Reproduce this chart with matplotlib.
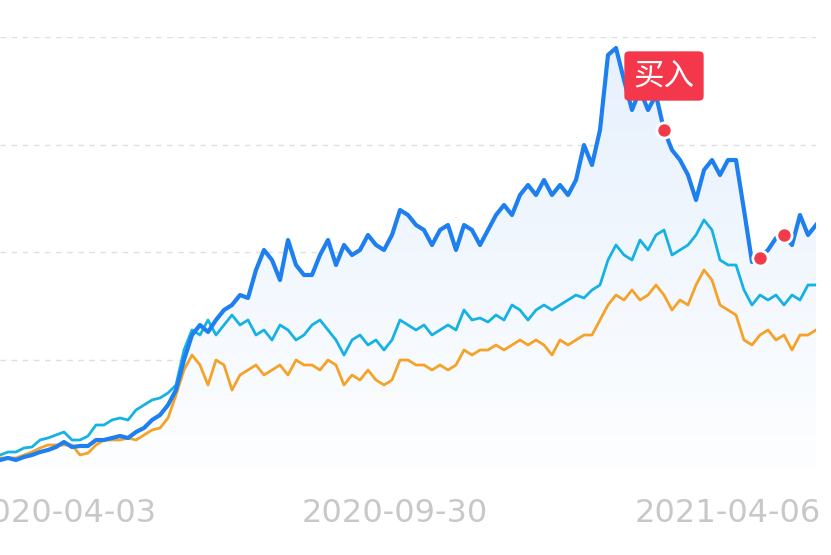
import matplotlib

matplotlib.use("Agg")
import matplotlib.pyplot as plt
import numpy as np
from matplotlib.patches import Polygon

plt.rcParams["font.family"] = ["Noto Sans CJK SC", "DejaVu Sans"]

# net value levels (arbitrary units), one sample per step
strategy = [7, 9, 7, 10, 12, 15, 17, 20, 25, 20, 21, 21, 27, 27, 29, 31, 29, 35, 39, 47, 52, 62, 77, 107, 132, 142,
            135, 147, 157, 162, 172, 169, 197, 217, 207, 187, 227, 202, 192, 192, 212, 227, 202, 222, 212, 217, 232,
            222, 217, 232, 257, 252, 242, 237, 222, 237, 242, 217, 242, 237, 222, 237, 252, 262, 252, 272, 282, 272,
            287, 272, 282, 272, 287, 322, 302, 337, 412, 419, 387, 357, 377, 357, 372, 337, 317, 307, 292, 267, 297,
            307, 292, 307, 307, 257, 205, 209, 217, 229, 232, 222, 252, 232, 242]
index_a = [12, 15, 15, 19, 20, 27, 29, 32, 35, 27, 27, 31, 42, 42, 47, 49, 47, 57, 62, 67, 69, 74, 82, 117, 137, 132,
           147, 132, 142, 152, 142, 147, 132, 137, 127, 142, 137, 127, 132, 142, 147, 137, 127, 112, 127, 132, 122,
           127, 117, 127, 147, 142, 137, 142, 132, 137, 142, 137, 157, 147, 149, 145, 152, 147, 162, 157, 147, 157,
           162, 157, 162, 167, 172, 169, 177, 182, 207, 222, 212, 207, 227, 217, 232, 237, 212, 217, 222, 232, 247,
           237, 207, 202, 202, 177, 162, 172, 167, 172, 162, 172, 167, 182, 182]
index_b = [9, 9, 9, 12, 15, 19, 22, 22, 22, 22, 12, 14, 22, 27, 27, 27, 29, 27, 32, 37, 39, 49, 72, 97, 112, 102, 82,
           107, 102, 77, 92, 97, 102, 92, 97, 102, 92, 107, 102, 102, 97, 107, 102, 82, 92, 87, 97, 87, 82, 87, 107,
           107, 102, 102, 97, 102, 97, 102, 117, 112, 117, 117, 122, 117, 122, 127, 122, 127, 122, 112, 127, 122,
           127, 132, 132, 147, 162, 172, 167, 177, 167, 172, 182, 172, 157, 167, 162, 182, 197, 187, 162, 157, 152,
           127, 122, 132, 137, 127, 132, 117, 132, 132, 137]
trade_points = [83, 95, 98]
tick_pos = [8, 49.4, 91]
tick_labels = ["2020-04-03", "2020-09-30", "2021-04-06"]

W, H = 831, 555
fig = plt.figure(figsize=(W / 100, H / 100), dpi=100)
ax = fig.add_axes([0, 88 / H, 816 / W, 430 / H])
x = np.arange(len(strategy))
ax.set_xlim(0, len(strategy) - 1)
ax.set_ylim(0, 430)

for lvl in [107.5, 215, 322.5, 430]:
    ax.axhline(lvl, color="#dcdfe4", lw=1, ls=(0, (4, 4)), zorder=0)
ax.axhline(0, color="#dcdfe4", lw=1.5, zorder=0)

# gradient fill under strategy curve
grad = np.linspace(1, 0, 256).reshape(-1, 1)
img = ax.imshow(grad, extent=[0, len(strategy) - 1, 0, 430], aspect="auto", origin="upper",
                cmap=matplotlib.colors.LinearSegmentedColormap.from_list("g", ["#fdfeff", "#e6f0fd"]), zorder=1)
poly = Polygon(np.column_stack([np.r_[x, x[-1], 0], np.r_[strategy, 0, 0]]), closed=True,
               facecolor="none", edgecolor="none")
ax.add_patch(poly)
img.set_clip_path(poly)

ax.plot(x, index_b, color="#f5a228", lw=2, zorder=2)
ax.plot(x, index_a, color="#16b2e3", lw=2, zorder=3)
ax.plot(x, strategy, color="#1e7ff0", lw=3, zorder=4)
ax.scatter(x[trade_points], np.array(strategy)[trade_points], s=120, color="#f23a4a",
           edgecolor="white", linewidth=2, zorder=5)

ax.text(83, 391, "买入", color="white", fontsize=22, ha="center", va="center", zorder=6,
        bbox=dict(boxstyle="round,pad=0.3,rounding_size=0.15", fc="#f5374b", ec="none"))

ax.set_xticks(tick_pos)
ax.set_xticklabels(tick_labels, fontsize=23, color="#c8c8c8", family=["DejaVu Sans"])
ax.tick_params(axis="x", length=0, pad=22)
ax.set_yticks([])
for s in ax.spines.values():
    s.set_visible(False)

fig.savefig("out.png", dpi=100)
